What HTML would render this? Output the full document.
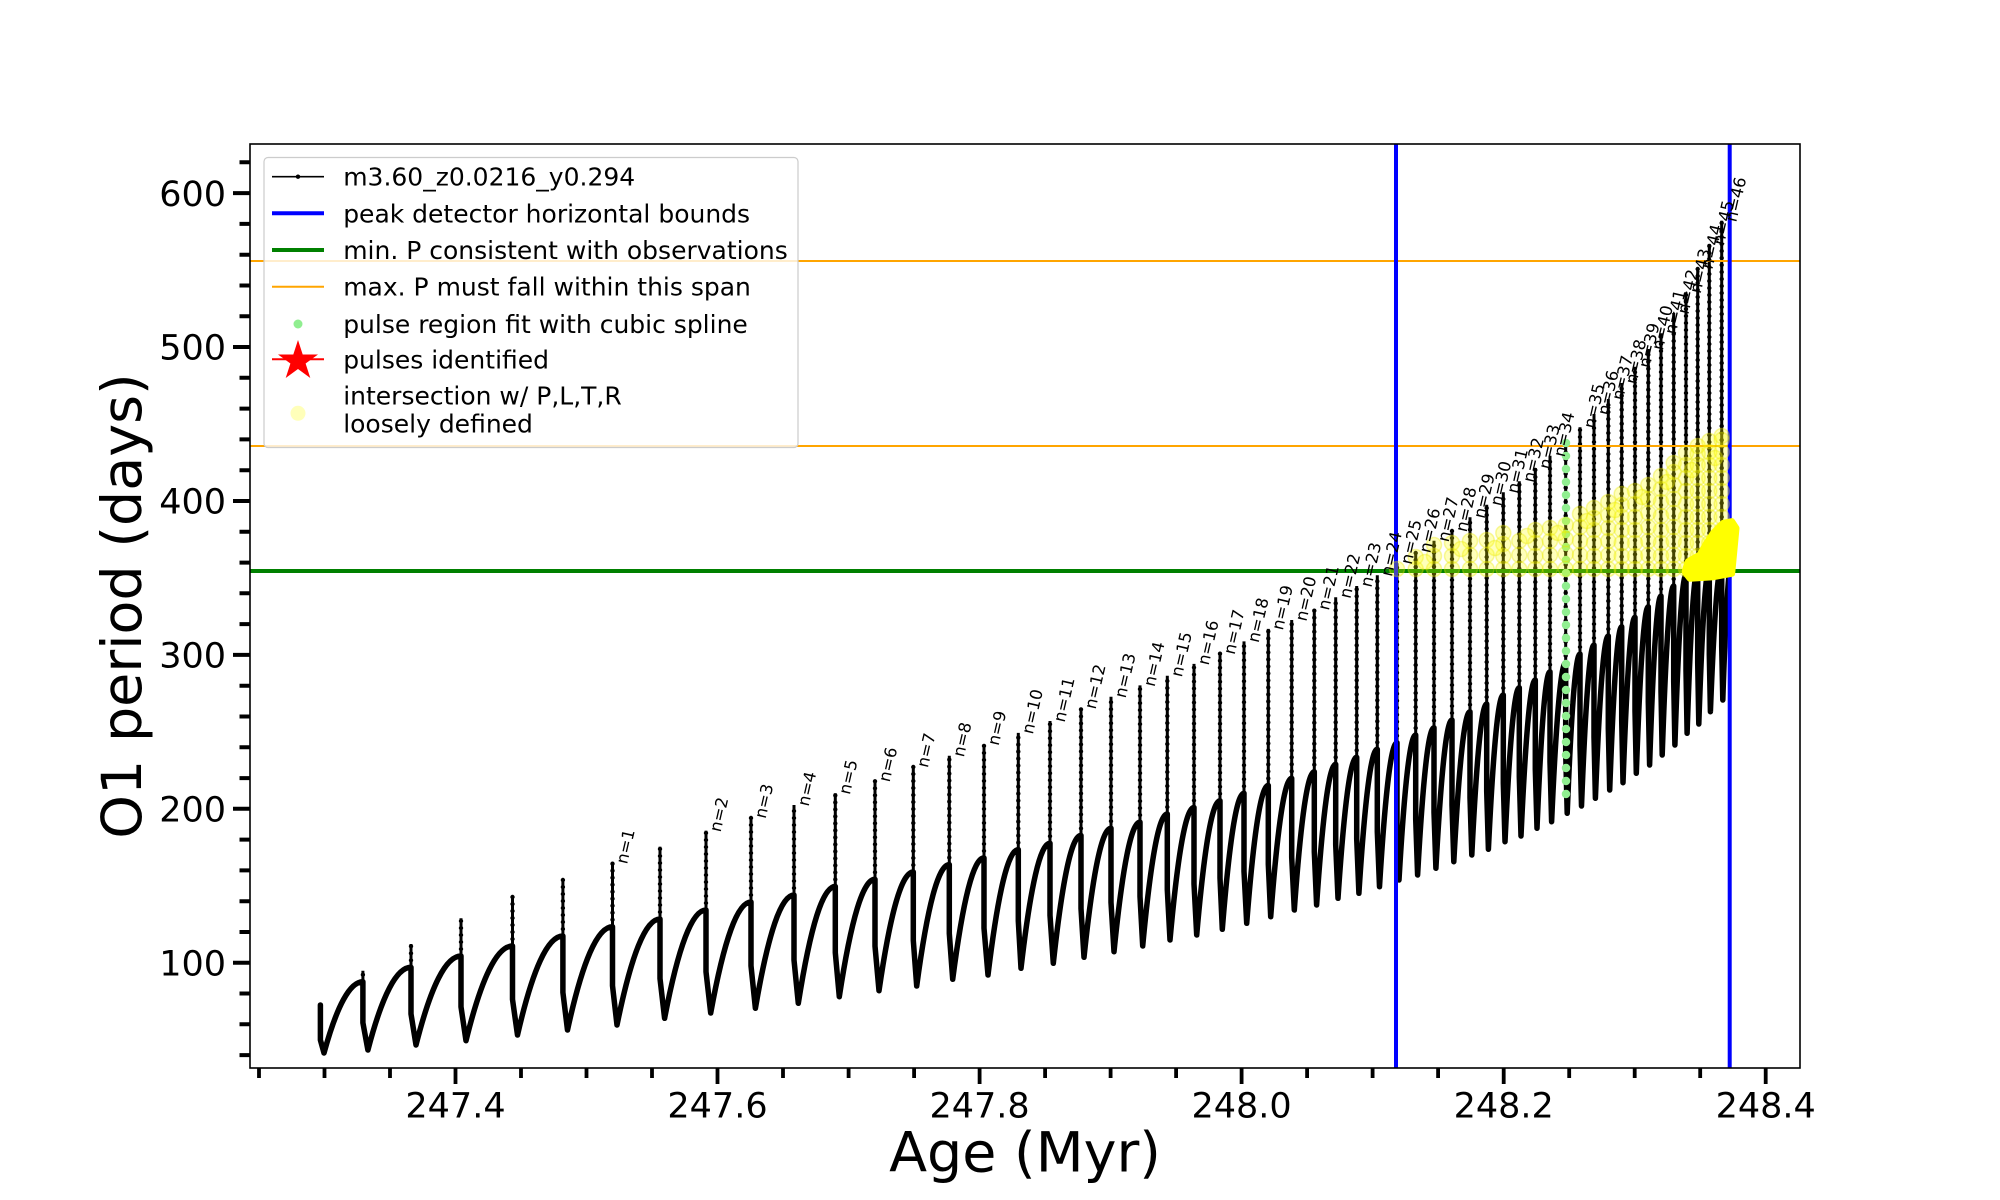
<!DOCTYPE html>
<html><head><meta charset="utf-8"><style>
html,body{margin:0;padding:0;background:#fff;}
svg{display:block;}
text{font-family:"DejaVu Sans","Liberation Sans",sans-serif;fill:#000;}
</style></head><body>
<svg width="2000" height="1200" viewBox="0 0 2000 1200" xmlns="http://www.w3.org/2000/svg">
<rect x="0" y="0" width="2000" height="1200" fill="#fff"/>

<!-- data: thick curve -->
<path fill="none" stroke="#000" stroke-width="5.5" stroke-linejoin="round" stroke-linecap="round" d="M320.4,1005 L320.4,1040 L324,1053
Q343.5,981.7 362.9,981.7 L362.9,1022.7 L367.9,1050
Q389.5,967.3 411,967.3 L411,1013.9 L416,1045
Q438.5,956 461,956 L461,1006.8 L466,1040.7
Q489.3,946 512.5,946 L512.5,999.4 L517.5,1035
Q540.2,936 562.9,936 L562.9,992.4 L567.5,1030
Q590,926.7 612.5,926.7 L612.5,985.7 L617,1025
Q638.5,919 660,919 L660,978.6 L664.6,1018.3
Q685.3,910 706,910 L706,971.8 L710.7,1013
Q730.9,902 751,902 L751,965.8 L755.4,1008.3
Q774.7,895 794,895 L794,960 L798.3,1003.3
Q816.8,886.4 835.3,886.4 L835.3,952.6 L839.3,996.7
Q857.2,879.3 875,879.3 L875,946.1 L879,990.7
Q896.2,872 913.3,872 L913.3,940.4 L916.7,986
Q933,864.6 949.3,864.6 L949.3,933.4 L952.7,979.3
Q968.4,857.9 984,857.9 L984,928.2 L988,975
Q1003.2,849.6 1018.3,849.6 L1018.3,920.8 L1021,968.3
Q1035.5,843.2 1050,843.2 L1050,915.3 L1053.3,963.3
Q1067.2,835.4 1081,835.4 L1081,908.5 L1084,957.3
Q1097.5,828.2 1111,828.2 L1111,902.3 L1114,951.7
Q1127,822.1 1140,822.1 L1140,896.4 L1142.7,946
Q1155,814 1167.3,814 L1167.3,889.6 L1170,940
Q1182,807.5 1194,807.5 L1194,884 L1196.7,935
Q1208.4,800.7 1220,800.7 L1220,877.9 L1222.3,929.3
Q1233.2,793.2 1244,793.2 L1244,871.3 L1246.7,923.3
Q1257.5,785.4 1268.3,785.4 L1268.3,864.2 L1270.7,916.7
Q1281.2,778.3 1291.7,778.3 L1291.7,857.3 L1294.3,910
Q1304.3,771.7 1314.3,771.7 L1314.3,851.7 L1316.6,905
Q1326.2,764.3 1335.7,764.3 L1335.7,844.7 L1338,898.3
Q1347.4,757.3 1356.7,757.3 L1356.7,838.9 L1358.9,893.3
Q1368.1,749.3 1377.3,749.3 L1377.3,831.7 L1379.5,886.7
Q1388.3,742.7 1397,742.7 L1397,825.1 L1399,880
Q1407.4,735 1415.7,735 L1415.7,819 L1417.6,875
Q1425.8,727.7 1434,727.7 L1434,812.1 L1435.9,868.3
Q1444,720 1452,720 L1452,805 L1453.8,861.7
Q1461.9,711.7 1470,711.7 L1470,797.7 L1471.8,855
Q1479.3,704 1486.7,704 L1486.7,791.2 L1488.4,849.3
Q1495.9,695 1503.3,695 L1503.3,783 L1505,841.7
Q1512.2,687.7 1519.3,687.7 L1519.3,776.7 L1521,836
Q1528.2,680 1535.3,680 L1535.3,769 L1537,828.3
Q1543.5,671.7 1550,671.7 L1550,761.7 L1551.6,821.7
Q1558.7,662.7 1565.7,662.7 L1565.7,753.1 L1567.2,813.3
Q1573.6,654 1580,654 L1580,745.2 L1581.5,806
Q1587.8,645 1594,645 L1594,737 L1595.4,798.3
Q1601.9,636 1608.3,636 L1608.3,728.4 L1609.7,790
Q1615.7,626.7 1621.7,626.7 L1621.7,720.3 L1623,782.7
Q1629,617.3 1635,617.3 L1635,710.9 L1636.3,773.3
Q1642.3,606.7 1648.3,606.7 L1648.3,701.7 L1649.6,765
Q1655.3,596 1661,596 L1661,691.4 L1662.2,755
Q1668,586 1673.7,586 L1673.7,681.4 L1674.9,745
Q1680.5,575 1686,575 L1686,670 L1687.1,733.3
Q1692.4,570 1697.7,570 L1697.7,662.4 L1698.8,724
Q1704.1,568 1709.3,568 L1709.3,654.2 L1710.4,711.7
Q1716.1,566 1721.7,566 L1721.7,646.4 L1722.8,700
Q1727.4,560 1732,560"/>

<!-- data: spikes -->
<g fill="none" stroke="#000">
<path stroke-width="3" d="M362.9,981.7V970.7 M411,967.3V944 M461,956V918.3 M512.5,946V896.7 M562.9,936V879.3 M612.5,926.7V862.7 M660,919V846.7 M706,910V830.7 M751,902V817.3 M794,895V805 M835.3,886.4V793.2 M875,879.3V780.7 M913.3,872V766.4 M949.3,864.6V755.7 M984,857.9V744.3 M1018.3,849.6V732.9 M1050,843.2V721 M1081,835.4V707.9 M1111,828.2V696.8 M1140,822.1V685.4 M1167.3,814V675.7 M1194,807.5V663.9 M1220,800.7V653.2 M1244,793.2V641.4 M1268.3,785.4V628.9 M1291.7,778.3V620 M1314.3,771.7V609 M1335.7,764.3V597.3 M1356.7,757.3V586 M1377.3,749.3V575.3 M1397,742.7V563.3 M1415.7,735V551.7 M1434,727.7V540.7 M1452,720V530.7 M1470,711.7V517.3 M1486.7,704V504.7 M1503.3,695V492.3 M1519.3,687.7V481.3 M1535.3,680V468 M1550,671.7V455.7 M1565.7,662.7V443 M1580,654V427.3 M1594,645V414 M1608.3,636V399 M1621.7,626.7V383 M1635,617.3V366.7 M1648.3,606.7V349 M1661,596V333.3 M1673.7,586V313 M1686,575V292.3 M1697.7,570V268 M1709.3,568V244 M1721.7,566V220.7"/>
<path stroke-width="4.4" stroke-linecap="round" stroke-dasharray="0 7" d="M362.9,981.7V970.7 M411,967.3V944 M461,956V918.3 M512.5,946V896.7 M562.9,936V879.3 M612.5,926.7V862.7 M660,919V846.7 M706,910V830.7 M751,902V817.3 M794,895V805 M835.3,886.4V793.2 M875,879.3V780.7 M913.3,872V766.4 M949.3,864.6V755.7 M984,857.9V744.3 M1018.3,849.6V732.9 M1050,843.2V721 M1081,835.4V707.9 M1111,828.2V696.8 M1140,822.1V685.4 M1167.3,814V675.7 M1194,807.5V663.9 M1220,800.7V653.2 M1244,793.2V641.4 M1268.3,785.4V628.9 M1291.7,778.3V620 M1314.3,771.7V609 M1335.7,764.3V597.3 M1356.7,757.3V586 M1377.3,749.3V575.3 M1397,742.7V563.3 M1415.7,735V551.7 M1434,727.7V540.7 M1452,720V530.7 M1470,711.7V517.3 M1486.7,704V504.7 M1503.3,695V492.3 M1519.3,687.7V481.3 M1535.3,680V468 M1550,671.7V455.7 M1565.7,662.7V443 M1580,654V427.3 M1594,645V414 M1608.3,636V399 M1621.7,626.7V383 M1635,617.3V366.7 M1648.3,606.7V349 M1661,596V333.3 M1673.7,586V313 M1686,575V292.3 M1697.7,570V268 M1709.3,568V244 M1721.7,566V220.7"/>
</g>

<!-- reference lines -->
<line x1="250" y1="261" x2="1800" y2="261" stroke="#ffa500" stroke-width="2"/>
<line x1="250" y1="446" x2="1800" y2="446" stroke="#ffa500" stroke-width="2"/>
<line x1="250" y1="571" x2="1800" y2="571" stroke="#008000" stroke-width="4"/>
<line x1="1396" y1="144" x2="1396" y2="1068" stroke="#0000ff" stroke-width="4"/>
<line x1="1729.7" y1="144" x2="1729.7" y2="1068" stroke="#0000ff" stroke-width="4"/>

<!-- green dotted spline -->
<line x1="1566" y1="443" x2="1566" y2="802" stroke="#90ee90" stroke-width="8.5" stroke-linecap="round" stroke-dasharray="0 13"/>

<!-- yellow circles -->
<g fill="#ffff00" fill-opacity="0.27" stroke="#e8e800" stroke-opacity="0.35" stroke-width="1.5">
<circle cx="1397" cy="569" r="7.5"/>
<circle cx="1415.7" cy="569" r="7.5"/><circle cx="1415.7" cy="557" r="7.5"/>
<circle cx="1434" cy="569" r="7.5"/><circle cx="1434" cy="556" r="7.5"/><circle cx="1434" cy="545" r="7.5"/>
<circle cx="1452" cy="569" r="7.5"/><circle cx="1452" cy="556" r="7.5"/><circle cx="1452" cy="543" r="7.5"/>
<circle cx="1470" cy="569" r="7.5"/><circle cx="1470" cy="555" r="7.5"/><circle cx="1470" cy="541" r="7.5"/>
<circle cx="1486.7" cy="569" r="7.5"/><circle cx="1486.7" cy="555" r="7.5"/><circle cx="1486.7" cy="540" r="7.5"/>
<circle cx="1503.3" cy="569" r="7.5"/><circle cx="1503.3" cy="556" r="7.5"/><circle cx="1503.3" cy="544" r="7.5"/><circle cx="1503.3" cy="533" r="7.5"/>
<circle cx="1519.3" cy="569" r="7.5"/><circle cx="1519.3" cy="555" r="7.5"/><circle cx="1519.3" cy="541" r="7.5"/>
<circle cx="1535.3" cy="569" r="7.5"/><circle cx="1535.3" cy="556" r="7.5"/><circle cx="1535.3" cy="543" r="7.5"/><circle cx="1535.3" cy="530" r="7.5"/>
<circle cx="1550" cy="569" r="7.5"/><circle cx="1550" cy="555" r="7.5"/><circle cx="1550" cy="541" r="7.5"/><circle cx="1550" cy="528" r="7.5"/>
<circle cx="1565.7" cy="569" r="7.5"/><circle cx="1565.7" cy="554" r="7.5"/><circle cx="1565.7" cy="539" r="7.5"/><circle cx="1565.7" cy="525" r="7.5"/>
<circle cx="1580" cy="569" r="7.5"/><circle cx="1580" cy="555" r="7.5"/><circle cx="1580" cy="541" r="7.5"/><circle cx="1580" cy="527" r="7.5"/><circle cx="1580" cy="514" r="7.5"/>
<circle cx="1594" cy="569" r="7.5"/><circle cx="1594" cy="556" r="7.5"/><circle cx="1594" cy="543" r="7.5"/><circle cx="1594" cy="530" r="7.5"/><circle cx="1594" cy="518" r="7.5"/><circle cx="1594" cy="508" r="7.5"/>
<circle cx="1608.3" cy="569" r="7.5"/><circle cx="1608.3" cy="555" r="7.5"/><circle cx="1608.3" cy="541" r="7.5"/><circle cx="1608.3" cy="528" r="7.5"/><circle cx="1608.3" cy="515" r="7.5"/><circle cx="1608.3" cy="502" r="7.5"/>
<circle cx="1621.7" cy="569" r="7.5"/><circle cx="1621.7" cy="556" r="7.5"/><circle cx="1621.7" cy="543" r="7.5"/><circle cx="1621.7" cy="530" r="7.5"/><circle cx="1621.7" cy="517" r="7.5"/><circle cx="1621.7" cy="505" r="7.5"/><circle cx="1621.7" cy="494" r="7.5"/>
<circle cx="1635" cy="569" r="7.5"/><circle cx="1635" cy="556" r="7.5"/><circle cx="1635" cy="543" r="7.5"/><circle cx="1635" cy="530" r="7.5"/><circle cx="1635" cy="517" r="7.5"/><circle cx="1635" cy="504" r="7.5"/><circle cx="1635" cy="491" r="7.5"/>
<circle cx="1648.3" cy="569" r="7.5"/><circle cx="1648.3" cy="555" r="7.5"/><circle cx="1648.3" cy="541" r="7.5"/><circle cx="1648.3" cy="527" r="7.5"/><circle cx="1648.3" cy="513" r="7.5"/><circle cx="1648.3" cy="499" r="7.5"/><circle cx="1648.3" cy="485" r="7.5"/>
<circle cx="1661" cy="569" r="7.5"/><circle cx="1661" cy="556" r="7.5"/><circle cx="1661" cy="543" r="7.5"/><circle cx="1661" cy="530" r="7.5"/><circle cx="1661" cy="516" r="7.5"/><circle cx="1661" cy="502" r="7.5"/><circle cx="1661" cy="489" r="7.5"/><circle cx="1661" cy="476" r="7.5"/>
<circle cx="1673.7" cy="569" r="7.5"/><circle cx="1673.7" cy="555" r="7.5"/><circle cx="1673.7" cy="541" r="7.5"/><circle cx="1673.7" cy="527" r="7.5"/><circle cx="1673.7" cy="513" r="7.5"/><circle cx="1673.7" cy="499" r="7.5"/><circle cx="1673.7" cy="485" r="7.5"/><circle cx="1673.7" cy="472" r="7.5"/><circle cx="1673.7" cy="463" r="7.5"/>
<circle cx="1686" cy="569" r="7.5"/><circle cx="1686" cy="556" r="7.5"/><circle cx="1686" cy="543" r="7.5"/><circle cx="1686" cy="530" r="7.5"/><circle cx="1686" cy="517" r="7.5"/><circle cx="1686" cy="504" r="7.5"/><circle cx="1686" cy="491" r="7.5"/><circle cx="1686" cy="478" r="7.5"/><circle cx="1686" cy="465" r="7.5"/><circle cx="1686" cy="453" r="7.5"/>
<circle cx="1697.7" cy="569" r="7.5"/><circle cx="1697.7" cy="556" r="7.5"/><circle cx="1697.7" cy="543" r="7.5"/><circle cx="1697.7" cy="530" r="7.5"/><circle cx="1697.7" cy="517" r="7.5"/><circle cx="1697.7" cy="504" r="7.5"/><circle cx="1697.7" cy="491" r="7.5"/><circle cx="1697.7" cy="478" r="7.5"/><circle cx="1697.7" cy="465" r="7.5"/><circle cx="1697.7" cy="454" r="7.5"/><circle cx="1697.7" cy="446" r="7.5"/>
<circle cx="1709.3" cy="569" r="7.5"/><circle cx="1709.3" cy="556" r="7.5"/><circle cx="1709.3" cy="543" r="7.5"/><circle cx="1709.3" cy="530" r="7.5"/><circle cx="1709.3" cy="517" r="7.5"/><circle cx="1709.3" cy="504" r="7.5"/><circle cx="1709.3" cy="491" r="7.5"/><circle cx="1709.3" cy="478" r="7.5"/><circle cx="1709.3" cy="465" r="7.5"/><circle cx="1709.3" cy="452" r="7.5"/><circle cx="1709.3" cy="441" r="7.5"/>
<circle cx="1721.7" cy="569" r="7.5"/><circle cx="1721.7" cy="556" r="7.5"/><circle cx="1721.7" cy="543" r="7.5"/><circle cx="1721.7" cy="530" r="7.5"/><circle cx="1721.7" cy="517" r="7.5"/><circle cx="1721.7" cy="504" r="7.5"/><circle cx="1721.7" cy="491" r="7.5"/><circle cx="1721.7" cy="478" r="7.5"/><circle cx="1721.7" cy="465" r="7.5"/><circle cx="1721.7" cy="452" r="7.5"/><circle cx="1721.7" cy="440" r="7.5"/><circle cx="1721.7" cy="436" r="7.5"/>
<circle cx="1425" cy="562" r="7.5"/><circle cx="1461" cy="549" r="7.5"/><circle cx="1495" cy="548" r="7.5"/><circle cx="1527" cy="536" r="7.5"/><circle cx="1558" cy="533" r="7.5"/><circle cx="1587" cy="521" r="7.5"/><circle cx="1615" cy="510" r="7.5"/><circle cx="1642" cy="497" r="7.5"/><circle cx="1667" cy="482" r="7.5"/><circle cx="1692" cy="470" r="7.5"/><circle cx="1715" cy="458" r="7.5"/>
</g>

<!-- solid yellow blob -->
<polygon points="1685,571.7 1688.3,561.7 1700,555 1706.7,543.3 1713.3,533.3 1723.3,523.3 1731.7,521.7 1736,528.3 1731.7,573.3 1713.3,576.7 1690,578.3" fill="#ffff00" stroke="#ffff00" stroke-width="7" stroke-linejoin="round"/>

<!-- pulse labels -->
<g font-size="16.5">
<text x="627" y="864.7" transform="rotate(-77 627 864.7)">n=1</text>
<text x="720.5" y="832.7" transform="rotate(-77 720.5 832.7)">n=2</text>
<text x="765.5" y="819.3" transform="rotate(-77 765.5 819.3)">n=3</text>
<text x="808.5" y="807" transform="rotate(-77 808.5 807)">n=4</text>
<text x="849.8" y="795.2" transform="rotate(-77 849.8 795.2)">n=5</text>
<text x="889.5" y="782.7" transform="rotate(-77 889.5 782.7)">n=6</text>
<text x="927.8" y="768.4" transform="rotate(-77 927.8 768.4)">n=7</text>
<text x="963.8" y="757.7" transform="rotate(-77 963.8 757.7)">n=8</text>
<text x="998.5" y="746.3" transform="rotate(-77 998.5 746.3)">n=9</text>
<text x="1032.8" y="734.9" transform="rotate(-77 1032.8 734.9)">n=10</text>
<text x="1064.5" y="723" transform="rotate(-77 1064.5 723)">n=11</text>
<text x="1095.5" y="709.9" transform="rotate(-77 1095.5 709.9)">n=12</text>
<text x="1125.5" y="698.8" transform="rotate(-77 1125.5 698.8)">n=13</text>
<text x="1154.5" y="687.4" transform="rotate(-77 1154.5 687.4)">n=14</text>
<text x="1181.8" y="677.7" transform="rotate(-77 1181.8 677.7)">n=15</text>
<text x="1208.5" y="665.9" transform="rotate(-77 1208.5 665.9)">n=16</text>
<text x="1234.5" y="655.2" transform="rotate(-77 1234.5 655.2)">n=17</text>
<text x="1258.5" y="643.4" transform="rotate(-77 1258.5 643.4)">n=18</text>
<text x="1282.8" y="630.9" transform="rotate(-77 1282.8 630.9)">n=19</text>
<text x="1306.2" y="622" transform="rotate(-77 1306.2 622)">n=20</text>
<text x="1328.8" y="611" transform="rotate(-77 1328.8 611)">n=21</text>
<text x="1350.2" y="599.3" transform="rotate(-77 1350.2 599.3)">n=22</text>
<text x="1371.2" y="588" transform="rotate(-77 1371.2 588)">n=23</text>
<text x="1391.8" y="577.3" transform="rotate(-77 1391.8 577.3)">n=24</text>
<text x="1411.5" y="565.3" transform="rotate(-77 1411.5 565.3)">n=25</text>
<text x="1430.2" y="553.7" transform="rotate(-77 1430.2 553.7)">n=26</text>
<text x="1448.5" y="542.7" transform="rotate(-77 1448.5 542.7)">n=27</text>
<text x="1466.5" y="532.7" transform="rotate(-77 1466.5 532.7)">n=28</text>
<text x="1484.5" y="519.3" transform="rotate(-77 1484.5 519.3)">n=29</text>
<text x="1501.2" y="506.7" transform="rotate(-77 1501.2 506.7)">n=30</text>
<text x="1517.8" y="494.3" transform="rotate(-77 1517.8 494.3)">n=31</text>
<text x="1533.8" y="483.3" transform="rotate(-77 1533.8 483.3)">n=32</text>
<text x="1549.8" y="470" transform="rotate(-77 1549.8 470)">n=33</text>
<text x="1564.5" y="457.7" transform="rotate(-77 1564.5 457.7)">n=34</text>
<text x="1594.5" y="429.3" transform="rotate(-77 1594.5 429.3)">n=35</text>
<text x="1608.5" y="416" transform="rotate(-77 1608.5 416)">n=36</text>
<text x="1622.8" y="401" transform="rotate(-77 1622.8 401)">n=37</text>
<text x="1636.2" y="385" transform="rotate(-77 1636.2 385)">n=38</text>
<text x="1649.5" y="368.7" transform="rotate(-77 1649.5 368.7)">n=39</text>
<text x="1662.8" y="351" transform="rotate(-77 1662.8 351)">n=40</text>
<text x="1675.5" y="335.3" transform="rotate(-77 1675.5 335.3)">n=41</text>
<text x="1688.2" y="315" transform="rotate(-77 1688.2 315)">n=42</text>
<text x="1700.5" y="294.3" transform="rotate(-77 1700.5 294.3)">n=43</text>
<text x="1712.2" y="270" transform="rotate(-77 1712.2 270)">n=44</text>
<text x="1723.8" y="246" transform="rotate(-77 1723.8 246)">n=45</text>
<text x="1736.2" y="222.7" transform="rotate(-77 1736.2 222.7)">n=46</text>
</g>

<!-- axes frame -->
<rect x="250" y="144" width="1550" height="924" fill="none" stroke="#000" stroke-width="1.6"/>

<!-- y ticks -->
<g stroke="#000" stroke-width="4">
<path d="M233,193.1H250 M233,347H250 M233,501H250 M233,654.9H250 M233,808.8H250 M233,962.7H250"/>
<path d="M239.5,162.3H250 M239.5,223.9H250 M239.5,254.7H250 M239.5,285.5H250 M239.5,316.2H250 M239.5,377.8H250 M239.5,408.6H250 M239.5,439.4H250 M239.5,470.2H250 M239.5,531.8H250 M239.5,562.6H250 M239.5,593.3H250 M239.5,624.1H250 M239.5,685.7H250 M239.5,716.5H250 M239.5,747.3H250 M239.5,778.1H250 M239.5,839.6H250 M239.5,870.4H250 M239.5,901.2H250 M239.5,932H250 M239.5,993.5H250 M239.5,1024.3H250 M239.5,1055.1H250"/>
</g>
<!-- x ticks -->
<g stroke="#000" stroke-width="3.8">
<path d="M455.5,1068V1084 M717.5,1068V1084 M979.6,1068V1084 M1241.6,1068V1084 M1503.7,1068V1084 M1765.7,1068V1084"/>
<path d="M259,1068V1078 M324.5,1068V1078 M390,1068V1078 M521,1068V1078 M586.5,1068V1078 M652,1068V1078 M783,1068V1078 M848.6,1068V1078 M914.1,1068V1078 M1045.1,1068V1078 M1110.6,1068V1078 M1176.1,1068V1078 M1307.1,1068V1078 M1372.6,1068V1078 M1438.1,1068V1078 M1569.2,1068V1078 M1634.7,1068V1078 M1700.2,1068V1078"/>
</g>

<!-- tick labels -->
<g font-size="35" text-anchor="end">
<text x="226" y="205.8">600</text>
<text x="226" y="359.7">500</text>
<text x="226" y="513.7">400</text>
<text x="226" y="667.6">300</text>
<text x="226" y="821.5">200</text>
<text x="226" y="975.4">100</text>
</g>
<g font-size="35" text-anchor="middle">
<text x="455.5" y="1117.3">247.4</text>
<text x="717.5" y="1117.3">247.6</text>
<text x="979.6" y="1117.3">247.8</text>
<text x="1241.6" y="1117.3">248.0</text>
<text x="1503.7" y="1117.3">248.2</text>
<text x="1765.7" y="1117.3">248.4</text>
</g>

<!-- axis labels -->
<text x="1025" y="1171.5" font-size="55.5" text-anchor="middle">Age (Myr)</text>
<text x="141" y="606" font-size="55.5" text-anchor="middle" transform="rotate(-90 141 606)">O1 period (days)</text>

<!-- legend -->
<rect x="264" y="157.5" width="534" height="290" rx="4" ry="4" fill="#fff" fill-opacity="0.8" stroke="#cccccc" stroke-width="1.2"/>
<line x1="272" y1="176.7" x2="324" y2="176.7" stroke="#000" stroke-width="1.6"/>
<circle cx="298" cy="176.7" r="2.2" fill="#000"/>
<line x1="272" y1="213.3" x2="324" y2="213.3" stroke="#0000ff" stroke-width="4"/>
<line x1="272" y1="250" x2="324" y2="250" stroke="#008000" stroke-width="4"/>
<line x1="272" y1="286.7" x2="324" y2="286.7" stroke="#ffa500" stroke-width="2"/>
<circle cx="298" cy="324" r="4.5" fill="#90ee90"/>
<line x1="272" y1="359.3" x2="324" y2="359.3" stroke="#ff0000" stroke-width="2"/>
<polygon points="298,340 302.7,354.5 318,354.5 305.6,363.5 310.3,378 298,369 285.7,378 290.4,363.5 278,354.5 293.3,354.5" fill="#ff0000"/>
<circle cx="298" cy="413.3" r="7.5" fill="#ffff00" fill-opacity="0.27"/>
<g font-size="25">
<text x="343.2" y="185.7">m3.60_z0.0216_y0.294</text>
<text x="343.2" y="222.3">peak detector horizontal bounds</text>
<text x="343.2" y="259">min. P consistent with observations</text>
<text x="343.2" y="295.7">max. P must fall within this span</text>
<text x="343.2" y="333">pulse region fit with cubic spline</text>
<text x="343.2" y="368.3">pulses identified</text>
<text x="343.2" y="404.3">intersection w/ P,L,T,R</text>
<text x="343.2" y="432.7">loosely defined</text>
</g>
</svg>
</body></html>
